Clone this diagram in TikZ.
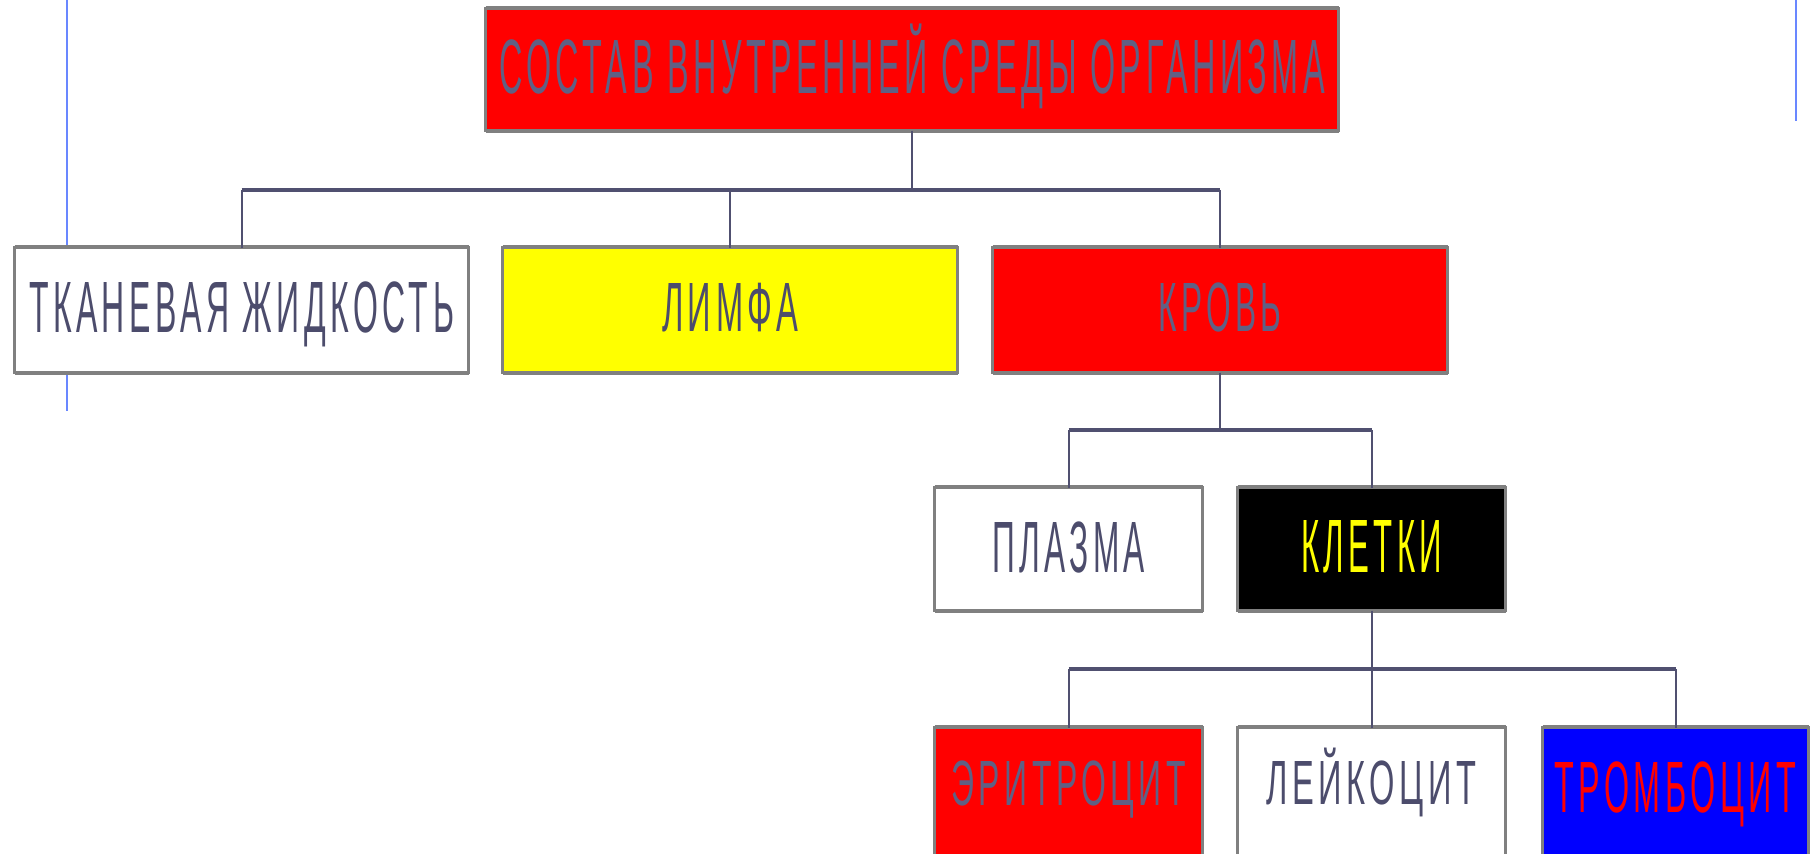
\documentclass[tikz,border=0pt]{standalone}
\usepackage{fontspec}
\usepackage{graphicx}
\newfontfamily\lbl[LetterSpace=14]{Liberation Sans}
\newfontfamily\lblz{Liberation Sans}
\definecolor{boxgray}{RGB}{128,128,128}
\definecolor{conncol}{RGB}{80,80,112}
\definecolor{txtdark}{RGB}{76,76,108}
\definecolor{txtred}{RGB}{96,96,132}
\definecolor{bluel}{RGB}{105,135,255}
\definecolor{yel}{RGB}{255,255,0}
\definecolor{pblue}{RGB}{0,0,255}
\definecolor{pred}{RGB}{255,0,0}
\newcommand\fittext[4]{%
  \sbox0{\lbl\fontsize{20}{24}\selectfont\color{#3}#4}%
  \sbox2{\lblz\fontsize{20}{24}\selectfont Н}%
  \sbox4{\lbl\fontsize{20}{24}\selectfont Н}%
  \pgfmathsetmacro\ftr{\the\wd4-\the\wd2}%
  \pgfmathsetmacro\fsx{(#1)*0.5/(\the\wd0-\ftr)}%
  \pgfmathsetmacro\fsy{(#2)*0.5/\the\ht2}%
  \pgfmathsetmacro\fsh{\fsx*\ftr}%
  \scalebox{\fsx}[\fsy]{\usebox0}\hspace{-\fsh pt}\hspace{4pt}}
\tikzset{
  box/.style={draw=boxgray, line width=1.5pt, rectangle, inner sep=0pt, outer sep=0pt,
    append after command={
      \pgfextra{\draw[boxgray, line width=2.5pt] (\tikzlastnode.north west) -- (\tikzlastnode.north east);
                \draw[boxgray, line width=2.5pt] (\tikzlastnode.south west) -- (\tikzlastnode.south east);}}},
  conn/.style={draw=conncol, line width=1pt},
  bar/.style={draw=conncol, line width=2.2pt},
  blueline/.style={draw=bluel, line width=1pt}
}
\begin{document}
\begin{tikzpicture}[x=0.5pt, y=-0.5pt]
\useasboundingbox (0,0) rectangle (1816,853);
\clip (0,0) rectangle (1816,853);
\fill[white] (0,0) rectangle (1816,853);
\draw[blueline] (67,0) -- (67,411);
\draw[blueline] (1796,0) -- (1796,121);
% level 1
\node[box, fill=pred, minimum width=426.5pt, minimum height=61pt, text height=26.5pt, text depth=3pt] (top) at (912,69.5)
  {\fittext{826}{53}{txtred}{СОСТАВ ВНУТРЕННЕЙ СРЕДЫ ОРГАНИЗМА}};
% level 2
\node[box, fill=white, minimum width=227pt, minimum height=62.5pt, text height=25pt, text depth=3pt] (tk) at (241.5,310)
  {\fittext{425}{50}{txtdark}{ТКАНЕВАЯ ЖИДКОСТЬ}};
\node[box, fill=yel, minimum width=227.5pt, minimum height=62.5pt, text height=24pt, text depth=3pt] (li) at (730,310)
  {\fittext{136}{48}{txtdark}{ЛИМФА}};
\node[box, fill=pred, minimum width=227.5pt, minimum height=62.5pt, text height=24pt, text depth=3pt] (kr) at (1220,310)
  {\fittext{123}{48}{txtred}{КРОВЬ}};
% level 3
\node[box, fill=white, minimum width=134pt, minimum height=61.5pt, text height=25pt, text depth=2pt] (pl) at (1068.5,549)
  {\fittext{153}{50}{txtdark}{ПЛАЗМА}};
\node[box, fill=black, minimum width=134pt, minimum height=61.5pt, text height=26pt, text depth=3pt] (kl) at (1371.5,549)
  {\fittext{141}{52}{yel}{КЛЕТКИ}};
% level 4
\node[box, fill=pred, minimum width=134pt, minimum height=68.5pt, text height=22pt, text depth=13pt] (er) at (1068.5,796)
  {\fittext{234}{44}{txtred}{ЭРИТРОЦИТ}};
\node[box, fill=white, minimum width=134pt, minimum height=68.5pt, text height=21.5pt, text depth=13pt] (le) at (1371.5,796)
  {\fittext{210}{43}{txtdark}{ЛЕЙКОЦИТ}};
\node[box, fill=pblue, minimum width=133pt, minimum height=68.5pt, text height=25pt, text depth=9pt] (tr) at (1675.5,796)
  {\fittext{242}{50}{pred}{ТРОМБОЦИТ}};
% connectors
\coordinate (bar1) at (912,190);
\draw[conn] (top.south) -- (top.south |- bar1);
\draw[bar] (tk.north |- bar1) -- (kr.north |- bar1);
\foreach \n in {tk,li,kr} \draw[conn] (\n.north) -- (\n.north |- bar1);
\coordinate (bar2) at (1220,430);
\draw[conn] (kr.south) -- (kr.south |- bar2);
\draw[bar] (pl.north |- bar2) -- (kl.north |- bar2);
\foreach \n in {pl,kl} \draw[conn] (\n.north) -- (\n.north |- bar2);
\coordinate (bar3) at (1371.5,669);
\draw[conn] (kl.south) -- (kl.south |- bar3);
\draw[bar] (er.north |- bar3) -- (tr.north |- bar3);
\foreach \n in {er,le,tr} \draw[conn] (\n.north) -- (\n.north |- bar3);
\end{tikzpicture}
\end{document}
